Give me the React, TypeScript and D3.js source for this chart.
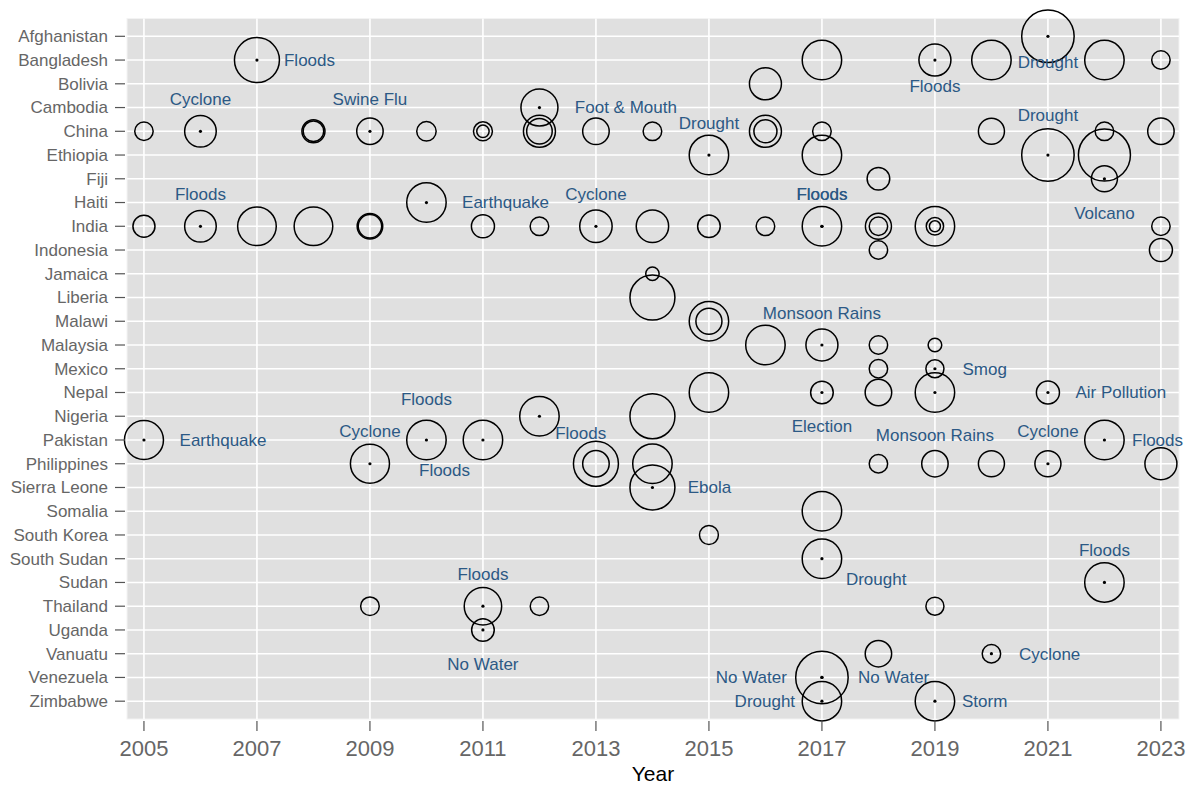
import React from "react";
import { scaleLinear, scalePoint, scaleSqrt } from "d3";

const countries = [
  "Afghanistan", "Bangladesh", "Bolivia", "Cambodia", "China", "Ethiopia", "Fiji",
  "Haiti", "India", "Indonesia", "Jamaica", "Liberia", "Malawi", "Malaysia", "Mexico",
  "Nepal", "Nigeria", "Pakistan", "Philippines", "Sierra Leone", "Somalia",
  "South Korea", "South Sudan", "Sudan", "Thailand", "Uganda", "Vanuatu",
  "Venezuela", "Zimbabwe",
];

const yearTicks = [2005, 2007, 2009, 2011, 2013, 2015, 2017, 2019, 2021, 2023];

// [country, year, size]
const events: [string, number, number][] = [
  ["Afghanistan", 2021, 43],
  ["Bangladesh", 2007, 31.6], ["Bangladesh", 2017, 24.3], ["Bangladesh", 2019, 16],
  ["Bangladesh", 2020, 24.3], ["Bangladesh", 2022, 24.3], ["Bangladesh", 2023, 5.3],
  ["Bolivia", 2016, 16],
  ["Cambodia", 2012, 21.4],
  ["China", 2005, 5.3], ["China", 2006, 15.6], ["China", 2008, 8.3], ["China", 2008, 6.6],
  ["China", 2009, 10.9], ["China", 2010, 5.9], ["China", 2011, 5.6], ["China", 2011, 2.4],
  ["China", 2012, 16], ["China", 2012, 10.2], ["China", 2013, 11], ["China", 2014, 5.4],
  ["China", 2016, 16], ["China", 2016, 8.3], ["China", 2017, 5.4], ["China", 2020, 10.6],
  ["China", 2022, 5.4], ["China", 2023, 10.9],
  ["Ethiopia", 2015, 24.3], ["Ethiopia", 2017, 24.3], ["Ethiopia", 2021, 43], ["Ethiopia", 2022, 42.3],
  ["Fiji", 2018, 8], ["Fiji", 2022, 10.6],
  ["Haiti", 2010, 24.3],
  ["India", 2005, 7.6], ["India", 2006, 15.6], ["India", 2007, 23.3], ["India", 2008, 23.3],
  ["India", 2009, 10.2], ["India", 2009, 8.6], ["India", 2011, 8.3], ["India", 2012, 5.4],
  ["India", 2013, 16.4], ["India", 2014, 16.4], ["India", 2015, 8], ["India", 2016, 5.4],
  ["India", 2017, 24.3], ["India", 2018, 10.6], ["India", 2018, 5.3],
  ["India", 2019, 24.3], ["India", 2019, 4.7], ["India", 2019, 1.9], ["India", 2023, 5.3],
  ["Indonesia", 2018, 5.3], ["Indonesia", 2023, 8.3],
  ["Jamaica", 2014, 2.8],
  ["Liberia", 2014, 31.6],
  ["Malawi", 2015, 24.3], ["Malawi", 2015, 10.6],
  ["Malaysia", 2016, 24.3], ["Malaysia", 2017, 16], ["Malaysia", 2018, 5.3], ["Malaysia", 2019, 2.9],
  ["Mexico", 2018, 5.3], ["Mexico", 2019, 5.1],
  ["Nepal", 2015, 24.3], ["Nepal", 2017, 8], ["Nepal", 2018, 11], ["Nepal", 2019, 24.3], ["Nepal", 2021, 8.3],
  ["Nigeria", 2012, 24.3], ["Nigeria", 2014, 31.6],
  ["Pakistan", 2005, 23.8], ["Pakistan", 2010, 24.3], ["Pakistan", 2011, 24.3], ["Pakistan", 2022, 24.3],
  ["Philippines", 2009, 23.8], ["Philippines", 2013, 31.6], ["Philippines", 2013, 11],
  ["Philippines", 2014, 24.3], ["Philippines", 2018, 5.3], ["Philippines", 2019, 10.9],
  ["Philippines", 2020, 10.6], ["Philippines", 2021, 10.6], ["Philippines", 2023, 16],
  ["Sierra Leone", 2014, 31.6],
  ["Somalia", 2017, 24.3],
  ["South Korea", 2015, 5.6],
  ["South Sudan", 2017, 24.3],
  ["Sudan", 2022, 24.3],
  ["Thailand", 2009, 5.4], ["Thailand", 2011, 21.9], ["Thailand", 2012, 5.3], ["Thailand", 2019, 5.1],
  ["Uganda", 2011, 8],
  ["Vanuatu", 2018, 10.9], ["Vanuatu", 2020, 5.3],
  ["Venezuela", 2017, 43],
  ["Zimbabwe", 2017, 24.3], ["Zimbabwe", 2019, 24.3],
];

// [country, year, label, nudge in years, nudge in rows]
const labelled: [string, number, string, number, number][] = [
  ["Afghanistan", 2021, "Drought", 0, 1.09],
  ["Bangladesh", 2007, "Floods", 0.93, 0],
  ["Bangladesh", 2019, "Floods", 0, 1.08],
  ["Cambodia", 2012, "Foot & Mouth", 1.53, 0],
  ["China", 2006, "Cyclone", 0, -1.37],
  ["China", 2009, "Swine Flu", 0, -1.37],
  ["Ethiopia", 2015, "Drought", 0, -1.34],
  ["Ethiopia", 2021, "Drought", 0, -1.68],
  ["Fiji", 2022, "Volcano", 0, 1.43],
  ["Haiti", 2010, "Earthquake", 1.4, 0],
  ["India", 2006, "Floods", 0, -1.37],
  ["India", 2013, "Cyclone", 0, -1.37],
  ["India", 2017, "Floods", 0, -1.37],
  ["India", 2017, "Floods", 0, -1.37],
  ["Malaysia", 2017, "Monsoon Rains", 0, -1.36],
  ["Mexico", 2019, "Smog", 0.88, 0],
  ["Nepal", 2017, "Election", 0, 1.43],
  ["Nepal", 2019, "Monsoon Rains", 0, 1.78],
  ["Nepal", 2021, "Air Pollution", 1.29, 0],
  ["Nigeria", 2012, "Floods", 0.73, 0.7],
  ["Pakistan", 2005, "Earthquake", 1.4, 0],
  ["Pakistan", 2010, "Floods", 0, -1.72],
  ["Pakistan", 2011, "Floods", -0.68, 1.26],
  ["Pakistan", 2022, "Floods", 0.94, 0],
  ["Philippines", 2009, "Cyclone", 0, -1.39],
  ["Philippines", 2021, "Cyclone", 0, -1.36],
  ["Sierra Leone", 2014, "Ebola", 1.01, 0],
  ["South Sudan", 2017, "Drought", 0.96, 0.86],
  ["Sudan", 2022, "Floods", 0, -1.37],
  ["Thailand", 2011, "Floods", 0, -1.36],
  ["Uganda", 2011, "No Water", 0, 1.43],
  ["Vanuatu", 2020, "Cyclone", 1.03, 0],
  ["Venezuela", 2017, "No Water", -1.25, 0],
  ["Venezuela", 2017, "No Water", 1.27, 0],
  ["Zimbabwe", 2017, "Drought", -1.01, 0],
  ["Zimbabwe", 2019, "Storm", 0.88, 0],
];

const W = 1187;
const H = 785;
const panel = { left: 127, right: 1179, top: 18.5, bottom: 719 };

export default function App() {
  const x = scaleLinear().domain([2004.7, 2023.32]).range([panel.left, panel.right]);
  const y = scalePoint<string>().domain(countries).range([panel.top, panel.bottom]).padding(0.75);
  const step = y.step();
  const r = scaleSqrt().domain([0, 100]).range([0, 40]);
  const font = "'Liberation Sans', Arial, Helvetica, sans-serif";

  return (
    <div style={{ position: "absolute", left: 0, top: 0 }}>
      <svg width={W} height={H} style={{ display: "block", background: "#fff" }} fontFamily={font}>
        <rect
          x={panel.left}
          y={panel.top}
          width={panel.right - panel.left}
          height={panel.bottom - panel.top}
          fill="#E0E0E0"
          stroke="#F3F3F3"
          strokeWidth={1}
        />
        {/* grid */}
        {countries.map((c) => (
          <line key={c} x1={panel.left} x2={panel.right} y1={y(c)} y2={y(c)} stroke="#fff" strokeWidth={1.6} />
        ))}
        {yearTicks.map((t) => (
          <line key={t} x1={x(t)} x2={x(t)} y1={panel.top} y2={panel.bottom} stroke="#fff" strokeWidth={1.6} />
        ))}

        {/* circles */}
        {events.map(([c, yr, v], i) => (
          <circle key={i} cx={x(yr)} cy={y(c)} r={r(v)} fill="none" stroke="#000" strokeWidth={1.5} />
        ))}
        {labelled.map(([c, yr], i) => (
          <circle key={"d" + i} cx={x(yr)} cy={y(c)} r={1.6} fill="#000" />
        ))}
        {labelled.map(([c, yr, text, nx, ny], i) => (
          <text
            key={"l" + i}
            x={x(yr + nx)}
            y={(y(c) ?? 0) + ny * step}
            dy="0.35em"
            textAnchor="middle"
            fontSize={17}
            fill="#2C5985"
          >
            {text}
          </text>
        ))}

        {/* y axis */}
        {countries.map((c) => (
          <g key={c} transform={`translate(0,${y(c)})`}>
            <line x1={115} x2={125} stroke="#555" strokeWidth={1.2} />
            <text x={108} dy="0.35em" textAnchor="end" fontSize={17} fill="#666">
              {c}
            </text>
          </g>
        ))}

        {/* x axis */}
        {yearTicks.map((t) => (
          <g key={t} transform={`translate(${x(t)},0)`}>
            <line y1={721} y2={731} stroke="#555" strokeWidth={1.2} />
            <text y={756} textAnchor="middle" fontSize={22} fill="#666">
              {t}
            </text>
          </g>
        ))}
        <text x={(panel.left + panel.right) / 2} y={781} textAnchor="middle" fontSize={21} fill="#000">
          Year
        </text>
      </svg>
    </div>
  );
}
